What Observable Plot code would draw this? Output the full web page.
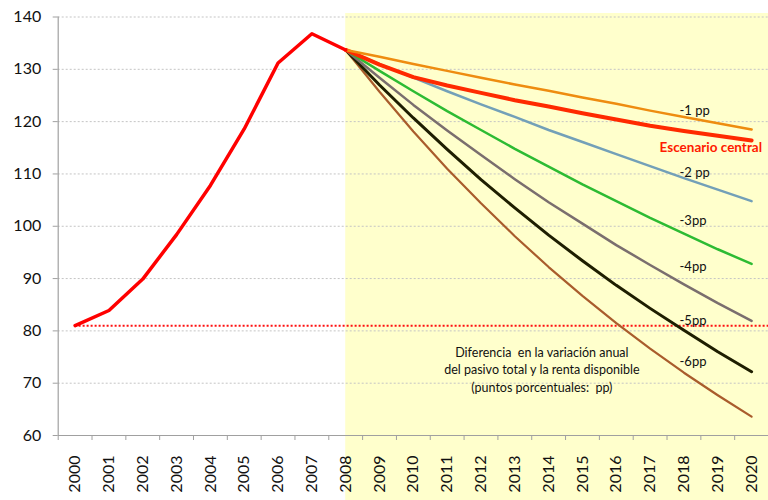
<!DOCTYPE html>
<html>
<head>
<meta charset="utf-8">
<script src="https://cdn.jsdelivr.net/npm/d3@7"></script>
<script src="https://cdn.jsdelivr.net/npm/@observablehq/plot@0.6"></script>
<style>
  html, body { margin: 0; padding: 0; background: #fff; }
  #chart { width: 768px; height: 500px; }
</style>
</head>
<body>
<div id="chart"></div>
<script>
// ---- Data ----
const years = [2000, 2001, 2002, 2003, 2004, 2005, 2006, 2007, 2008, 2009, 2010,
               2011, 2012, 2013, 2014, 2015, 2016, 2017, 2018, 2019, 2020];
const histYears = [2000, 2001, 2002, 2003, 2004, 2005, 2006, 2007, 2008];
const histValues = [81.0, 83.9, 89.9, 98.4, 107.8, 118.6, 131.2, 136.8, 133.7];

const scenYears = [2008, 2009, 2010, 2011, 2012, 2013, 2014, 2015, 2016, 2017, 2018, 2019, 2020];
const minus1 = [133.7, 132.4, 131.0, 129.7, 128.4, 127.1, 125.9, 124.6, 123.4, 122.1, 120.9, 119.7, 118.5];
const central = [133.7, 130.9, 128.5, 126.9, 125.5, 124.1, 122.9, 121.6, 120.4, 119.2, 118.2, 117.3, 116.4];
const minus2 = [133.7, 131.0, 128.4, 125.8, 123.3, 120.9, 118.4, 116.1, 113.8, 111.5, 109.2, 107.0, 104.8];
const minus3 = [133.7, 129.7, 125.8, 122.0, 118.4, 114.8, 111.4, 108.0, 104.8, 101.6, 98.6, 95.6, 92.8];
const minus4 = [133.7, 128.4, 123.2, 118.3, 113.6, 109.0, 104.6, 100.5, 96.4, 92.6, 88.9, 85.3, 81.9];
const minus5 = [133.7, 127.0, 120.7, 114.7, 108.9, 103.5, 98.3, 93.4, 88.7, 84.3, 80.1, 76.0, 72.2];
const minus6 = [133.7, 125.7, 118.1, 111.0, 104.4, 98.1, 92.2, 86.7, 81.5, 76.6, 72.0, 67.7, 63.6];

const referenceLevel = 81.0;
const yTicks = [60, 70, 80, 90, 100, 110, 120, 130, 140];
const gridTicks = [70, 80, 90, 100, 110, 120, 130, 140];

const seriesNames = ["-1 pp", "Escenario central", "-2 pp", "-3pp", "-4pp", "-5pp", "-6pp"];
const seriesValues = [minus1, central, minus2, minus3, minus4, minus5, minus6];
const annotation = "Diferencia  en la variación anual\ndel pasivo total y la renta disponible\n(puntos porcentuales:  pp)";

// ---- Styling (not data) ----
const styles = {
  "-1 pp":            {stroke: "#EE8C10", width: 2.5, labelY: 122.1, labelX: 2017.87},
  "Escenario central":{stroke: "#FF2A00", width: 4,   labelY: 114.95, labelX: 2017.28},
  "-2 pp":            {stroke: "#73A0B8", width: 2.5, labelY: 110.3, labelX: 2017.87},
  "-3pp":             {stroke: "#2DBB33", width: 2.5, labelY: 101.1, labelX: 2017.87},
  "-4pp":             {stroke: "#7A6E6E", width: 2.5, labelY: 92.2,  labelX: 2017.87},
  "-5pp":             {stroke: "#1E1E00", width: 3,   labelY: 82.0,  labelX: 2017.87},
  "-6pp":             {stroke: "#A95C2C", width: 2.2, labelY: 74.0,  labelX: 2017.87}
};

const hist = histYears.map((y, i) => ({year: y, value: histValues[i]}));
const scen = seriesNames.flatMap((name, k) =>
  scenYears.map((y, i) => ({year: y, value: seriesValues[k][i], name})));
const halfTicks = years.map(y => y - 0.5).concat([years[years.length - 1] + 0.5]);

const font = "Lato, 'Open Sans', sans-serif";

const lineMarks = seriesNames.slice().reverse().map(name =>
  Plot.line(scen.filter(d => d.name === name), {
    x: "year", y: "value", stroke: styles[name].stroke,
    strokeWidth: styles[name].width, strokeLinejoin: "round", strokeLinecap: "round"
  }));

const labelMarks = seriesNames.map(name => {
  const central = name === "Escenario central";
  return Plot.text([name], {
    x: () => styles[name].labelX, y: () => styles[name].labelY, text: d => d,
    textAnchor: "start", fontSize: central ? 13.5 : 13,
    fontWeight: central ? "bold" : "normal",
    fill: central ? "#FF1A00" : "#111"
  });
});

const chart = Plot.plot({
  width: 768,
  height: 500,
  marginLeft: 57.7,
  marginRight: 0,
  marginTop: 16.5,
  marginBottom: 65,
  style: {fontFamily: font, background: "transparent", overflow: "visible"},
  x: {domain: [1999.5, 2020.5]},
  y: {domain: [60, 140]},
  marks: [
    Plot.rect([0], {x1: 2008, x2: 2020.5, y1: 140.67, y2: 47.5, fill: "#FFFFCC"}),
    Plot.ruleY(gridTicks, {stroke: "#c4c4c4", strokeDasharray: "2,2", strokeWidth: 1}),
    Plot.ruleX([1999.5], {y1: 60, y2: 140, stroke: "#a0a0a0", strokeWidth: 1.2}),
    Plot.ruleY([60], {stroke: "#a0a0a0", strokeWidth: 1.2}),
    Plot.axisY({ticks: yTicks, tickSize: 5, tickPadding: 12, fontSize: 16, stroke: "#a0a0a0", fill: "#111", label: null}),
    Plot.axisX({ticks: halfTicks, tickSize: 5, tickFormat: () => "", stroke: "#a0a0a0", label: null}),
    Plot.text(years, {x: d => d, frameAnchor: "bottom", text: d => String(d), rotate: -90,
      textAnchor: "end", lineAnchor: "middle", dy: 20, fontSize: 16, fill: "#111"}),
    Plot.ruleY([referenceLevel], {x1: 2000, x2: 2020.5, stroke: "#FF1010", strokeWidth: 2, strokeDasharray: "2,2"}),
    ...lineMarks,
    Plot.line(hist, {x: "year", y: "value", stroke: "#FF0000", strokeWidth: 3.5, strokeLinejoin: "round", strokeLinecap: "round"}),
    ...labelMarks,
    Plot.text([annotation], {x: () => 2013.8, y: () => 72.75, text: d => d, fontSize: 12.5, lineHeight: 1.4, fill: "#111", textAnchor: "middle"})
  ]
});

document.getElementById("chart").appendChild(chart);
</script>
</body>
</html>
